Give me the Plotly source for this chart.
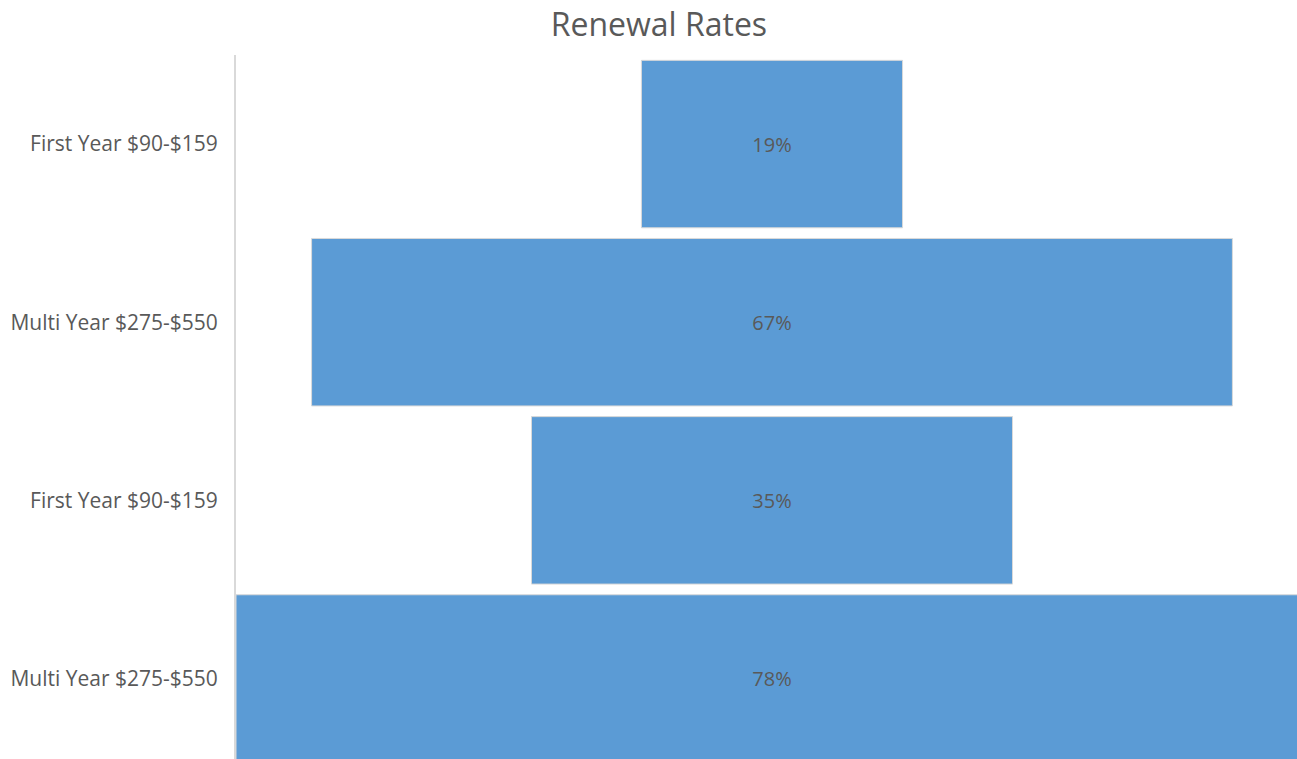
import plotly.graph_objects as go

# Funnel stages (top to bottom) and their renewal rates in percent
stage_labels = [
    "First Year $90-$159",
    "Multi Year $275-$550",
    "First Year $90-$159",
    "Multi Year $275-$550",
]
renewal_pct = [19, 67, 35, 78]
stage_pos = [0, 1, 2, 3]

FONT = "Open Sans, Lato, sans-serif"

fig = go.Figure(
    go.Funnel(
        y=stage_pos,
        x=renewal_pct,
        orientation="h",
        text=[f"{v}%" for v in renewal_pct],
        textinfo="text",
        textposition="inside",
        insidetextanchor="middle",
        textfont=dict(family=FONT, size=20, color="#595959"),
        marker=dict(color="#5B9BD5", line=dict(color="#D9D9D9", width=1)),
        connector=dict(visible=False),
        width=0.94,
        hoverinfo="skip",
    )
)

fig.update_layout(
    width=1297,
    height=759,
    paper_bgcolor="white",
    plot_bgcolor="white",
    margin=dict(l=236, r=0, t=55, b=0),
    showlegend=False,
    title=dict(
        text="Renewal Rates",
        x=0.508,
        xanchor="center",
        y=0.967,
        yanchor="middle",
        font=dict(family=FONT, size=32, color="#595959"),
    ),
    font=dict(family=FONT),
)

fig.update_xaxes(
    range=[-39, 38.2],
    visible=False,
    showgrid=False,
    zeroline=False,
)

fig.update_yaxes(
    tickmode="array",
    tickvals=stage_pos,
    ticktext=stage_labels,
    range=[3.452, -0.5],
    autorange=False,
    showline=True,
    linecolor="#D9D9D9",
    linewidth=2,
    showgrid=False,
    zeroline=False,
    ticks="",
    ticklabelstandoff=12,
    tickfont=dict(family=FONT, size=21, color="#595959"),
)

fig.write_html("out.html")
